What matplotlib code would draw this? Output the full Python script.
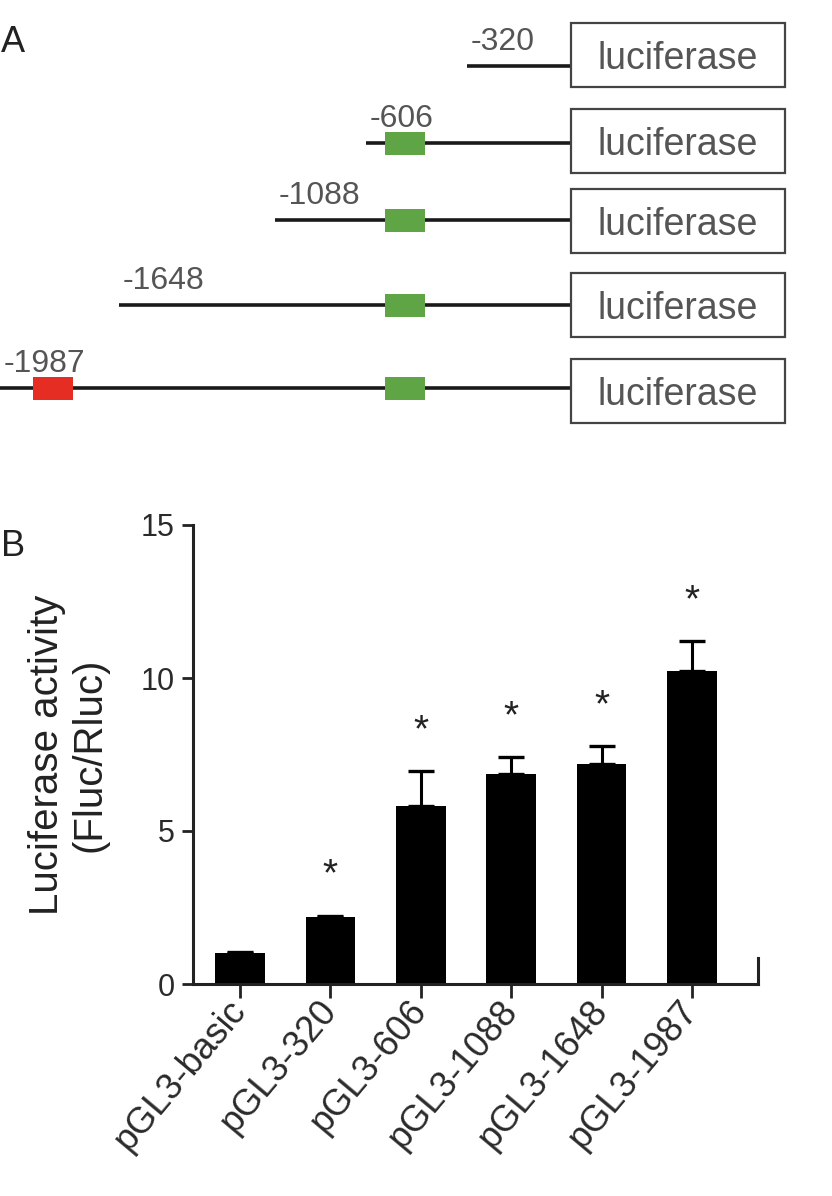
import matplotlib

matplotlib.use("Agg")

import matplotlib.pyplot as plt
import numpy as np
from matplotlib.patches import Rectangle

plt.rcParams["font.family"] = ["Liberation Sans", "DejaVu Sans"]

# panel A: promoter deletion constructs
construct_labels = ["-320", "-606", "-1088", "-1648", "-1987"]
has_green_site = [False, True, True, True, True]
has_red_site = [False, False, False, False, True]
reporter_name = "luciferase"

# panel B: luciferase activity
bar_labels = ["pGL3-basic", "pGL3-320", "pGL3-606", "pGL3-1088", "pGL3-1648", "pGL3-1987"]
activity = [1.0, 2.2, 5.82, 6.86, 7.19, 10.23]
activity_err = [0.05, 0.03, 1.14, 0.56, 0.59, 0.98]
significant = [False, True, True, True, True, True]

# layout of the schematic (figure pixels)
W, H = 832, 1196
line_y = [66, 143, 220, 305, 388]
box_cy = [55, 141, 221, 305, 391]
line_x0 = [467, 366, 275, 119, 0]
box_x0, box_x1, box_h = 571, 785, 64
green_x, red_x, site_w, site_h = 385, 33, 40, 23

fig = plt.figure(figsize=(W / 100, H / 100), dpi=100)

ax_a = fig.add_axes([0, 0, 1, 1])
ax_a.set_xlim(0, W)
ax_a.set_ylim(H, 0)
ax_a.axis("off")

ax_a.text(1, 52, "A", fontsize=26, color="#222222", ha="left", va="baseline")
ax_a.text(1, 556, "B", fontsize=26, color="#222222", ha="left", va="baseline")

for i, label in enumerate(construct_labels):
    y = line_y[i]
    ax_a.plot([line_x0[i], box_x0], [y, y], color="#1a1a1a", lw=2.6, solid_capstyle="butt", zorder=2)
    ax_a.text(line_x0[i] + 4, y - 16, label, fontsize=23, color="#555555", ha="left", va="baseline")
    ax_a.add_patch(Rectangle((box_x0, box_cy[i] - box_h / 2), box_x1 - box_x0, box_h,
                             facecolor="white", edgecolor="#444444", lw=1.6, zorder=3))
    ax_a.text((box_x0 + box_x1) / 2, box_cy[i] + 4, reporter_name, fontsize=27, color="#555555",
              ha="center", va="center", zorder=4)
    if has_green_site[i]:
        ax_a.add_patch(Rectangle((green_x, y - site_h / 2), site_w, site_h, facecolor="#5fa546",
                                 edgecolor="none", zorder=4))
    if has_red_site[i]:
        ax_a.add_patch(Rectangle((red_x, y - site_h / 2), site_w, site_h, facecolor="#e62d23",
                                 edgecolor="none", zorder=4))

# panel B bar chart
ax = fig.add_axes([193 / W, 1 - 984 / H, (758 - 193) / W, (984 - 525) / H])
x = np.arange(len(bar_labels))
ax.bar(x, activity, width=0.55, color="black", zorder=2)
ax.errorbar(x, activity, yerr=[np.zeros(len(x)), activity_err], fmt="none", ecolor="black",
            elinewidth=2.2, capsize=9.5, capthick=2.4, zorder=3)

star_fs = 28
for xi, v, e, sig in zip(x, activity, activity_err, significant):
    if sig:
        ax.annotate("*", xy=(xi, v + e + 1.72), xytext=(0, -0.58 * star_fs), textcoords="offset points",
                    ha="center", va="baseline", fontsize=star_fs, color="#222222")

ax.set_xlim(-0.52, 5.73)
ax.set_ylim(0, 15)
ax.set_yticks([0, 5, 10, 15])
ax.set_xticks(x)
ax.set_xticklabels(bar_labels, rotation=50, ha="right", va="center", rotation_mode="anchor")
ax.tick_params(axis="y", length=8, width=2, labelsize=22, labelcolor="#2a2a2a", pad=5, color="#222222")
ax.tick_params(axis="x", length=10, width=2, labelsize=26, labelcolor="#2a2a2a", pad=5, color="#222222")
for side in ["left", "bottom", "right"]:
    ax.spines[side].set_linewidth(2.2)
    ax.spines[side].set_color("#222222")
ax.spines["top"].set_visible(False)
ax.spines["right"].set_bounds(0, 0.85)
ax.set_ylabel("Luciferase activity\n(Fluc/Rluc)", fontsize=29, color="#222222", linespacing=1.15)
ax.yaxis.set_label_coords(-0.15, 0.5)

fig.savefig("out.png", dpi=100)
